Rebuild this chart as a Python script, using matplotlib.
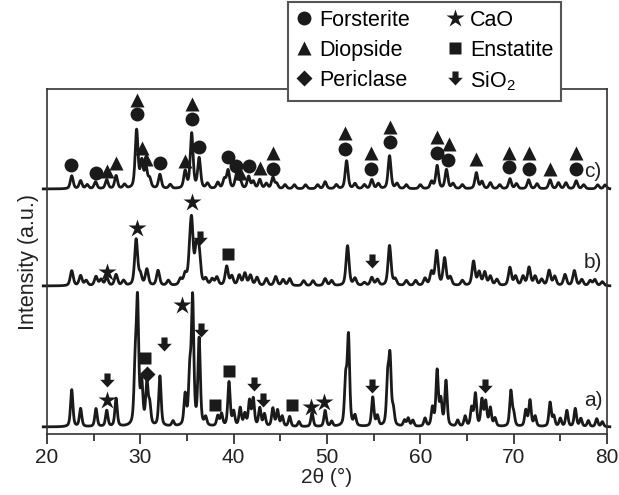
import numpy as np
import matplotlib
matplotlib.use("Agg")
import matplotlib.pyplot as plt
from matplotlib.path import Path
from matplotlib.lines import Line2D

fontsize = 15
lw = 2.0
ink = "#1a1a1a"

plt.rcParams["font.family"] = ["Liberation Sans", "DejaVu Sans"]
plt.rcParams["mathtext.default"] = "regular"
plt.rcParams["font.size"] = fontsize

# Peak lists (2theta, intensity) for each sample
peaks_a = [(22.65, 37), (23.6, 18), (25.25, 18), (26.4, 16), (27.4, 28), (29.45, 55),
           (29.7, 120), (30.15, 40), (30.7, 42), (31.0, 20), (32.1, 50), (33.5, 5),
           (34.8, 30), (35.3, 50), (35.6, 125), (36.3, 86), (37.0, 8), (38.3, 10),
           (38.7, 12), (39.5, 44), (40.0, 14), (40.7, 18), (41.2, 12), (41.7, 25),
           (42.1, 27), (42.8, 18), (43.3, 12), (44.2, 18), (44.7, 16), (45.2, 10),
           (46.0, 10), (47.0, 5), (48.4, 14), (49.8, 16), (50.5, 5), (52.0, 45),
           (52.3, 88), (53.0, 10), (54.9, 29), (55.4, 10), (56.5, 45), (56.75, 65),
           (57.1, 15), (58.3, 6), (58.7, 8), (59.2, 6), (60.5, 8), (61.3, 18),
           (61.8, 55), (62.2, 25), (62.75, 45), (64.0, 6), (64.8, 10), (65.5, 18),
           (65.9, 32), (66.6, 26), (67.0, 24), (67.5, 18), (68.0, 8), (69.7, 35),
           (70.0, 12), (71.3, 16), (71.75, 26), (72.3, 10), (73.9, 24), (74.3, 10),
           (75.0, 8), (75.7, 16), (76.6, 18), (77.2, 8), (78.0, 6), (78.9, 8), (79.5, 5)]

peaks_b = [(22.65, 15), (23.6, 10), (24.2, 5), (25.25, 9), (25.8, 6), (26.4, 8),
           (27.4, 11), (28.2, 5), (29.55, 46), (30.0, 10), (30.7, 16), (31.9, 15),
           (33.0, 5), (34.3, 6), (34.8, 10), (35.3, 22), (35.5, 56), (36.0, 34),
           (36.3, 30), (37.0, 6), (37.7, 6), (38.2, 8), (39.25, 19), (39.8, 9),
           (40.6, 10), (41.2, 12), (41.8, 10), (42.5, 8), (43.5, 7), (44.5, 9),
           (45.3, 6), (46.0, 7), (47.5, 5), (48.5, 5), (49.8, 7), (50.5, 5),
           (52.2, 40), (53.0, 7), (54.0, 3), (54.8, 8), (55.4, 6), (56.7, 40),
           (57.3, 6), (58.5, 5), (59.5, 5), (60.5, 7), (61.2, 13), (61.75, 34),
           (62.6, 27), (63.2, 8), (64.5, 5), (65.7, 24), (66.3, 13), (66.9, 13),
           (67.5, 9), (68.2, 6), (69.6, 18), (70.2, 9), (71.0, 9), (71.65, 18),
           (72.3, 9), (73.0, 6), (73.8, 15), (74.4, 9), (75.5, 11), (76.5, 15),
           (77.3, 6), (78.2, 5), (78.7, 6), (79.5, 4)]

peaks_c = [(22.65, 13), (23.6, 8), (24.3, 4), (25.2, 7), (26.4, 9), (27.4, 13),
           (28.3, 4), (29.6, 58), (30.15, 26), (30.6, 20), (31.0, 9), (32.1, 14),
           (33.2, 4), (34.8, 17), (35.5, 55), (36.3, 30), (37.2, 5), (38.3, 6),
           (39.0, 9), (39.4, 18), (40.3, 14), (40.7, 8), (41.6, 12), (42.1, 7),
           (42.8, 9), (43.5, 5), (44.2, 11), (44.6, 5), (45.5, 4), (46.5, 4),
           (47.7, 4), (49.0, 4), (49.8, 7), (51.0, 4), (52.1, 28), (53.0, 5),
           (54.0, 4), (54.8, 9), (55.5, 5), (56.7, 33), (57.5, 5), (58.5, 4),
           (60.0, 4), (61.2, 7), (61.8, 23), (62.8, 19), (63.5, 5), (64.5, 4),
           (66.0, 16), (66.6, 7), (67.5, 6), (68.5, 4), (69.6, 10), (70.3, 5),
           (71.6, 9), (72.5, 5), (73.9, 9), (74.8, 6), (75.6, 6), (76.7, 8),
           (77.5, 4), (79.0, 4), (79.8, 4)]

# vertical offsets of the stacked patterns and peak widths (FWHM, deg)
offsets = {"a": 7, "b": 148, "c": 245}
widths = {"a": 0.3, "b": 0.38, "c": 0.36}

# phase markers: (phase, 2theta, height)
marks_a = [("SiO2", 26.4, 52), ("CaO", 26.4, 34), ("Enstatite", 30.5, 76),
           ("Periclase", 30.7, 60), ("SiO2", 32.55, 88), ("CaO", 34.45, 129),
           ("SiO2", 36.55, 102), ("Enstatite", 38.0, 29), ("Enstatite", 39.5, 63),
           ("SiO2", 42.2, 48), ("SiO2", 43.1, 32), ("Enstatite", 46.2, 29),
           ("CaO", 48.25, 27), ("CaO", 49.7, 32), ("SiO2", 54.8, 46), ("SiO2", 66.9, 46)]
marks_b = [("CaO", 26.4, 162), ("CaO", 29.6, 206), ("CaO", 35.5, 232),
           ("SiO2", 36.4, 194), ("Enstatite", 39.4, 180), ("SiO2", 54.8, 171)]
marks_c = [("Forsterite", 22.6, 269), ("Forsterite", 25.3, 261), ("Diopside", 26.4, 263),
           ("Diopside", 27.4, 271), ("Diopside", 29.6, 334), ("Forsterite", 29.6, 320),
           ("Diopside", 30.2, 286), ("Diopside", 30.6, 275), ("Forsterite", 32.1, 271),
           ("Diopside", 34.8, 273), ("Diopside", 35.5, 330), ("Forsterite", 35.5, 315),
           ("Forsterite", 36.3, 287), ("Forsterite", 39.4, 277), ("Forsterite", 40.3, 268),
           ("Diopside", 40.7, 261), ("Forsterite", 41.6, 268), ("Diopside", 42.8, 266),
           ("Diopside", 44.2, 281), ("Forsterite", 44.2, 265), ("Diopside", 51.9, 301),
           ("Forsterite", 51.9, 285), ("Diopside", 54.7, 281), ("Forsterite", 54.7, 265),
           ("Diopside", 56.7, 307), ("Forsterite", 56.7, 292), ("Diopside", 61.75, 297),
           ("Forsterite", 61.75, 281), ("Diopside", 63.1, 290), ("Forsterite", 63.0, 274),
           ("Diopside", 66.0, 275), ("Diopside", 69.5, 281), ("Forsterite", 69.5, 267),
           ("Diopside", 71.6, 281), ("Forsterite", 71.6, 265), ("Diopside", 73.9, 265),
           ("Diopside", 76.7, 281), ("Forsterite", 76.7, 265)]

sample_labels = [("a)", 78.5, 34), ("b)", 78.5, 171), ("c)", 78.5, 262)]
phases = ["Forsterite", "Diopside", "Periclase", "CaO", "Enstatite", "SiO2"]
phase_names = {"SiO2": "SiO$_2$"}

# thick down arrow used for SiO2
arrow = Path([(-0.34, 1.0), (0.34, 1.0), (0.34, 0.3), (0.8, 0.3), (0.0, -0.55),
              (-0.8, 0.3), (-0.34, 0.3), (-0.34, 1.0)],
             [Path.MOVETO] + [Path.LINETO] * 6 + [Path.CLOSEPOLY])

styles = {"Forsterite": dict(marker="o", ms=10),
          "Diopside": dict(marker="^", ms=10.5),
          "Periclase": dict(marker="D", ms=8),
          "CaO": dict(marker="*", ms=13.5),
          "Enstatite": dict(marker="s", ms=8),
          "SiO2": dict(marker=arrow, ms=13)}


# sum of pseudo-Voigt peaks on a flat baseline
def pattern(x, peaks, fwhm):
    y = np.zeros_like(x)
    for pos, h in peaks:
        d = (x - pos) / (fwhm / 2)
        y += h * (0.5 / (1 + d**2) + 0.5 * np.exp(-np.log(2) * d**2))
    return y


fig = plt.figure(figsize=(6.19, 4.95), dpi=100)
ax = fig.add_axes([47 / 619, 61 / 495, 560 / 619, 345 / 495])

x = np.linspace(19.6, 80.3, 4000)
for key, peaks in (("a", peaks_a), ("b", peaks_b), ("c", peaks_c)):
    ax.plot(x, pattern(x, peaks, widths[key]) + offsets[key], color=ink, lw=lw,
            clip_on=False, zorder=2)

for marks in (marks_a, marks_b, marks_c):
    for phase, pos, h in marks:
        ax.plot(pos, h, ls="none", color=ink, mec="none", zorder=3, clip_on=False,
                **styles[phase])

for text, pos, h in sample_labels:
    ax.text(pos, h, text, ha="center", va="center", fontsize=fontsize, color="#222")

ax.set_xlim(20, 80)
ax.set_ylim(0, 345)
ax.set_xticks(np.arange(20, 81, 10))
ax.set_xticks(np.arange(25, 80, 10), minor=True)
ax.set_yticks([])
ax.tick_params(axis="x", which="major", direction="out", length=7, width=1.2,
               labelsize=fontsize, pad=3, colors="#222")
ax.tick_params(axis="x", which="minor", direction="out", length=5, width=1.2,
               colors="#222")
for sp in ax.spines.values():
    sp.set_color("#333")
    sp.set_linewidth(1.2)
ax.set_xlabel("2θ (°)", fontsize=fontsize, labelpad=1, color="#222")
ax.set_ylabel("Intensity (a.u.)", fontsize=fontsize + 0.5, labelpad=6, color="#222")

handles = [Line2D([], [], ls="none", color=ink, mec="none", **styles[p]) for p in phases]
labels = [phase_names.get(p, p) for p in phases]
leg = ax.legend(handles, labels, ncol=2, loc="upper left", bbox_to_anchor=(0.43, 1.252),
                borderaxespad=0, frameon=True, fancybox=False, framealpha=1,
                edgecolor="#555", fontsize=fontsize + 0.5, handletextpad=0.3,
                columnspacing=1.7, labelspacing=0.42, handlelength=0.8,
                borderpad=0.35)
leg.get_frame().set_linewidth(1.5)
leg.set_zorder(10)

fig.savefig("out.png", dpi=100)
